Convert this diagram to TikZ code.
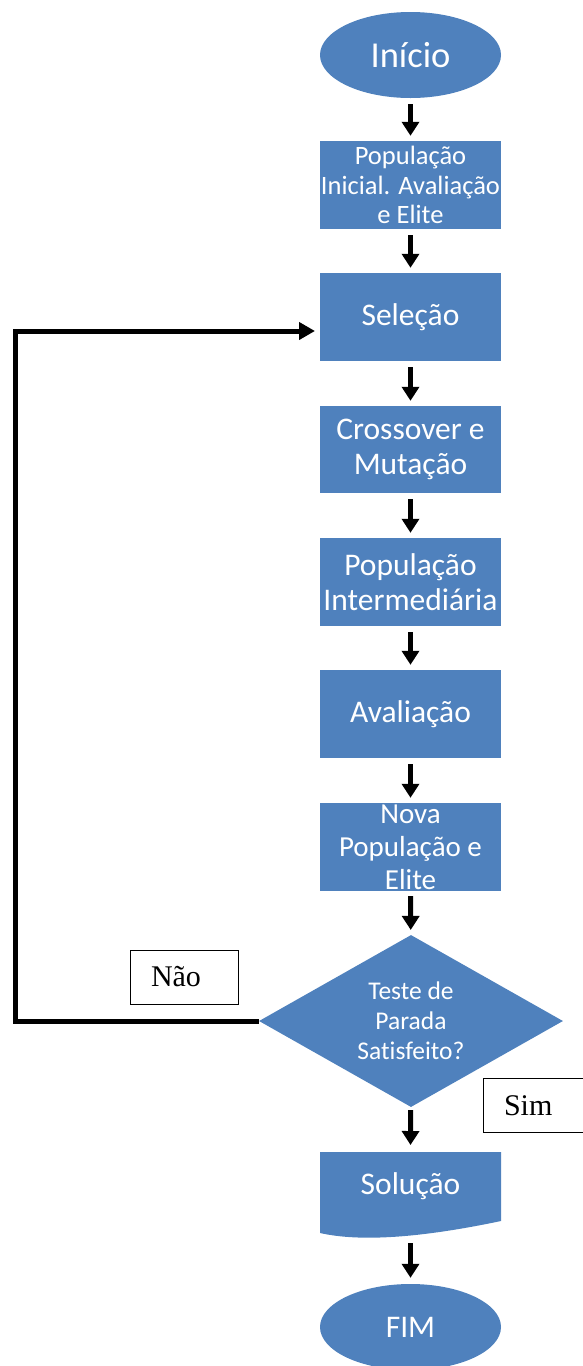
\documentclass[tikz,border=0pt]{standalone}
\usepackage{fontspec}
\setmainfont{Carlito}[Ligatures={TeX,NoCommon}]
\newfontfamily\tnr{Liberation Serif}
\usetikzlibrary{shapes.geometric,arrows.meta}
\definecolor{obl}{HTML}{4F81BD}
\begin{document}
\begin{tikzpicture}[x=1pt,y=-1pt,
  blk/.style={fill=obl, text=white, align=center, inner sep=0pt, minimum width=181pt, minimum height=88pt, font=\fontsize{31.5}{35}\selectfont},
  term/.style={ellipse, fill=obl, text=white, inner sep=0pt, minimum width=181pt, minimum height=86pt},
  dec/.style={diamond, aspect=1.77, fill=obl, text=white, align=center, inner sep=0pt, minimum width=304pt, minimum height=172pt, font=\fontsize{25.5}{30}\selectfont},
  arr/.style={line width=5pt, -{Triangle[width=17pt,length=14pt]}, shorten <=6pt, shorten >=5pt},
  loopline/.style={line width=5pt, -{Triangle[width=17pt,length=16pt]}, shorten >=5pt},
  lbl/.style={draw=black, line width=1pt, inner xsep=21pt, inner ysep=0pt, minimum height=54pt, text width=66pt, align=left, font=\tnr\fontsize{30}{34}\selectfont}
]
\useasboundingbox (0,0) rectangle (582,1366);

\node[term, font=\fontsize{36.5}{40}\selectfont] (ini) at (410.5,55) {Início};
\node[blk, font=\fontsize{26.5}{29.5}\selectfont] (b1) at (410.5,185) {População\\Inicial. Avaliação\\e Elite};
\node[blk] (sel) at (410.5,317) {Seleção};
\node[blk, minimum height=87pt] (cro) at (410.5,449.5) {Crossover e\\Mutação};
\node[blk] (int) at (410.5,582) {População\\Intermediária};
\node[blk] (ava) at (410.5,714) {Avaliação};
\node[blk, font=\fontsize{29}{33}\selectfont] (nov) at (410.5,847) {Nova\\População e\\Elite};
\node[dec] (dia) at (411,1021) {Teste de\\Parada\\Satisfeito?};

\fill[obl] (320,1152) -- (501,1152) -- (501,1221) .. controls (420,1238) and (360,1242) .. (320,1233) -- cycle;
\node[text=white, font=\fontsize{31.5}{35}\selectfont] (sol) at (410.5,1186) {Solução};
\coordinate (solt) at (410.5,1152);
\coordinate (solb) at (410.5,1238);

\node[term, font=\fontsize{31.5}{35}\selectfont] (fim) at (410.5,1327) {FIM};

\node[lbl] (nao) at (184,977) {Não};
\node[lbl, text width=68pt] (sim) at (538,1105.5) {Sim};

\draw[arr] (ini) -- (b1);
\draw[arr] (b1) -- (sel);
\draw[arr] (sel) -- (cro);
\draw[arr] (cro) -- (int);
\draw[arr] (int) -- (ava);
\draw[arr] (ava) -- (nov);
\draw[arr, shorten <=5pt] (nov) -- (dia);
\draw[arr, shorten <=3pt, shorten >=7pt] (dia) -- (solt);
\draw[arr, shorten <=5pt, shorten >=6pt] (solb) -- (fim);

\coordinate (lx) at (15,1021);
\coordinate (selin) at (320,331);
\draw[loopline] (dia.west) -- (lx) -- (lx |- selin) -- (selin);
\end{tikzpicture}
\end{document}
